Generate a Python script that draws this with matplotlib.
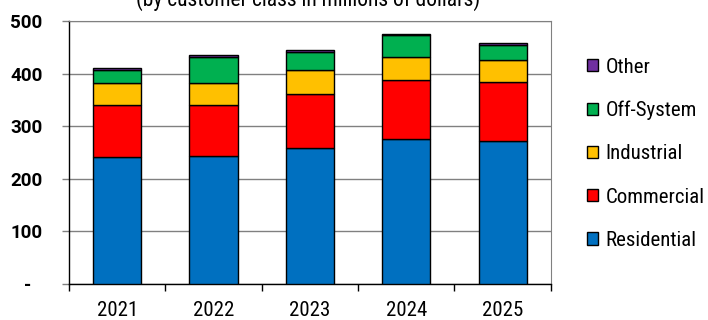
import numpy as np
import matplotlib
matplotlib.use("Agg")
import matplotlib.pyplot as plt
import matplotlib.transforms as mtransforms
from matplotlib.patches import Patch

plt.rcParams['font.family'] = ['Roboto Condensed', 'Archivo Narrow', 'DejaVu Sans']

years = ['2021', '2022', '2023', '2024', '2025']
classes = ['Residential', 'Commercial', 'Industrial', 'Off-System', 'Other']
residential = [242, 243, 258, 275, 272]
commercial = [98, 98, 104, 113, 113]
industrial = [42, 41, 45, 44, 41]
off_system = [25, 50, 34, 41, 28]
other = [4, 3, 5, 3, 4]
colors = ['#0070C0', '#FF0000', '#FFC000', '#00B050', '#7030A0']

series = [residential, commercial, industrial, off_system, other]

fig = plt.figure(figsize=(7.08, 3.2), dpi=100)
ax = fig.add_axes([0.0975, 0.1125, 0.6805, 0.8215])

x = np.arange(len(years))
bottom = np.zeros(len(years))
for vals, col in zip(series, colors):
    ax.bar(x, vals, 0.5, bottom=bottom, color=col, edgecolor='black', linewidth=1.0, zorder=3)
    bottom += np.array(vals)

ax.set_xlim(-0.5, len(years) - 0.5)
ax.set_ylim(0, 500)
ax.set_yticks([0, 100, 200, 300, 400, 500])
ax.set_yticklabels(['-', '100', '200', '300', '400', '500'], fontsize=13.5,
                   fontweight='bold', family=['Roboto', 'DejaVu Sans'])
ax.yaxis.grid(True, color='#808080', linewidth=1, zorder=0)

ax.set_xticks(x)
ax.set_xticklabels(years, fontsize=15)
ax.tick_params(axis='x', length=0, pad=12.5)
ax.set_xticks(np.arange(len(years) + 1) - 0.5, minor=True)
ax.tick_params(axis='x', which='minor', length=5, width=1, color='black')
ax.tick_params(axis='y', length=5, width=1, color='#808080', pad=14)

# the zero label "-" sits left of the right-aligned numbers
zero_lbl = ax.get_yticklabels()[0]
zero_lbl.set_transform(zero_lbl.get_transform() +
                       mtransforms.ScaledTranslation(-8 / 72, 0, fig.dpi_scale_trans))

for s in ['top', 'right']:
    ax.spines[s].set_color('#808080')
for s in ['left', 'bottom']:
    ax.spines[s].set_color('black')
    ax.spines[s].set_linewidth(1.0)

handles = [Patch(facecolor=c, edgecolor='black', linewidth=1.0) for c in colors]
leg = fig.legend(handles[::-1], classes[::-1], loc='center left', bbox_to_anchor=(0.802, 0.52),
                 frameon=False, fontsize=15, handlelength=0.55, handleheight=0.55,
                 handletextpad=0.35, labelspacing=1.16)

fig.text(0.435, 0.981, '(by customer class in millions of dollars)', ha='center', va='baseline', fontsize=15.5)

fig.savefig('out.png', dpi=100)
